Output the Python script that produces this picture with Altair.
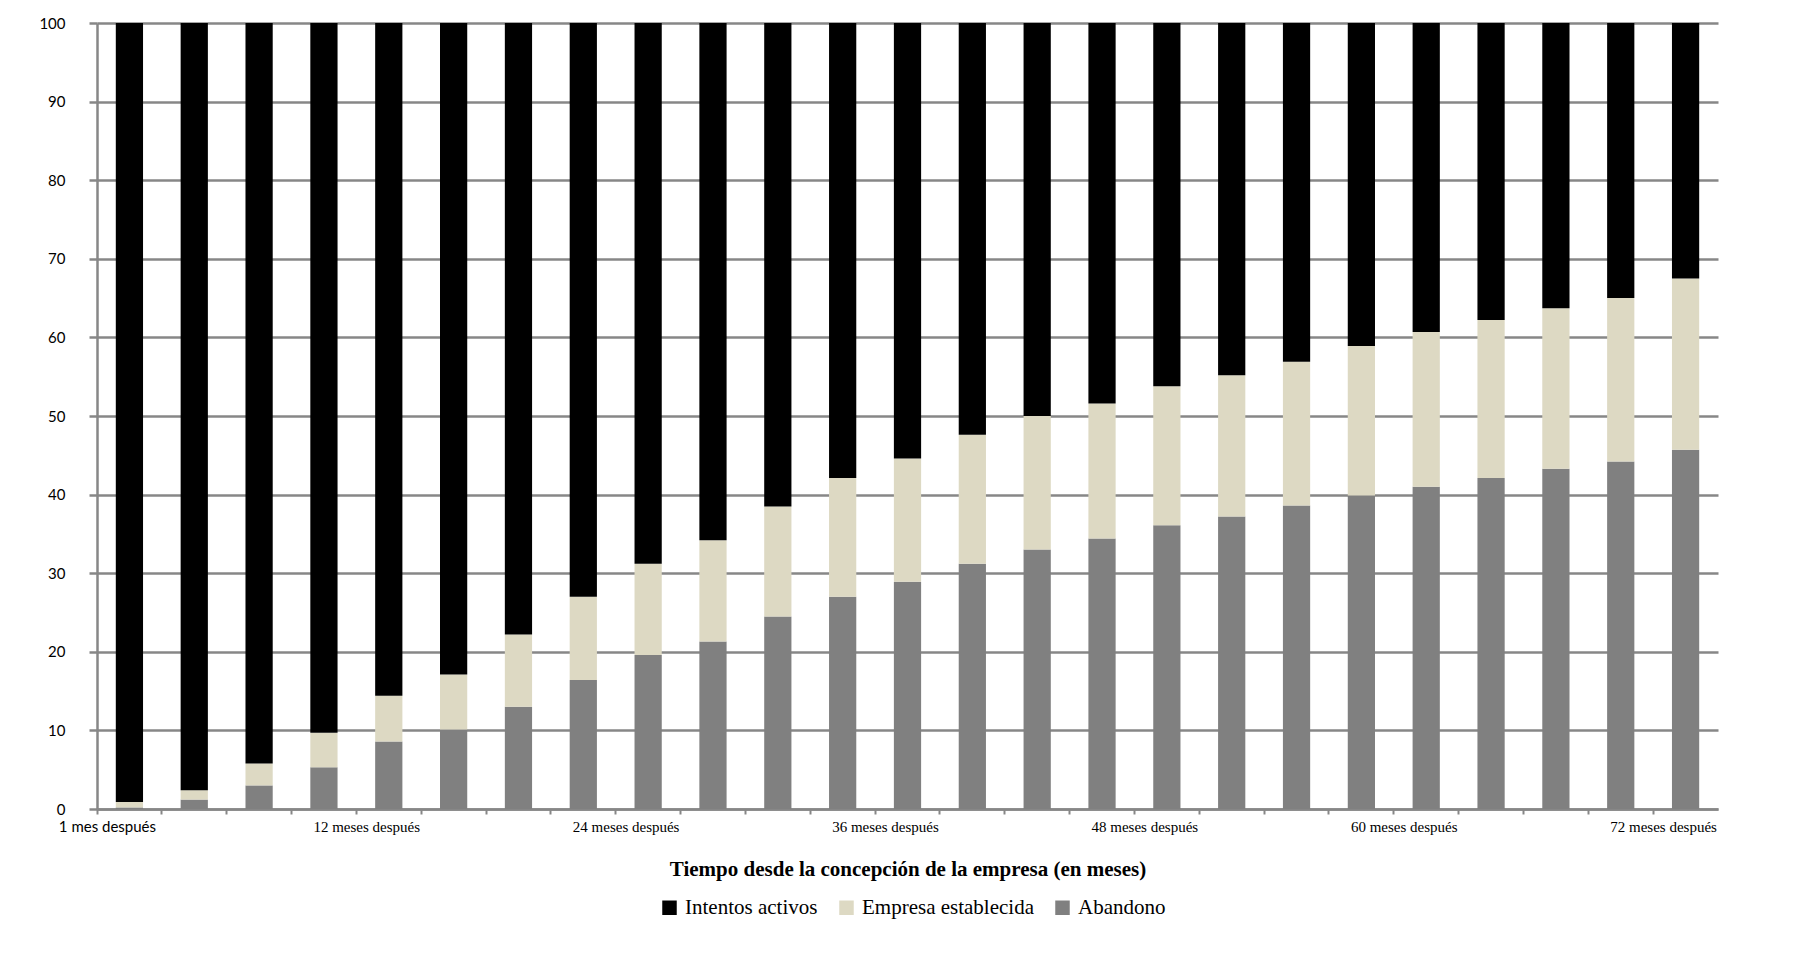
import altair as alt
import pandas as pd

# Months since conception (one bar every 3 months)
meses = [1, 3, 6, 9, 12, 15, 18, 21, 24, 27, 30, 33, 36, 39, 42, 45, 48,
         51, 54, 57, 60, 63, 66, 69, 72]

# Percent values
abandono = [0.2, 1.2, 3.0, 5.3, 8.6, 10.1, 13.0, 16.4, 19.6, 21.3, 24.5, 27.0,
            28.9, 31.2, 33.0, 34.4, 36.1, 37.2, 38.6, 39.9, 41.0, 42.1, 43.3,
            44.2, 45.7]
establecida = [0.7, 1.2, 2.8, 4.4, 5.8, 7.0, 9.2, 10.6, 11.6, 12.9, 14.0, 15.1,
               15.7, 16.4, 17.0, 17.2, 17.7, 18.0, 18.3, 19.0, 19.7, 20.1, 20.4,
               20.8, 21.8]
activos = [99.1, 97.6, 94.2, 90.3, 85.6, 82.9, 77.8, 73.0, 68.8, 65.8, 61.5,
           57.9, 55.4, 52.4, 50.0, 48.4, 46.2, 44.8, 43.1, 41.1, 39.3, 37.8,
           36.3, 35.0, 32.5]

series = ["Intentos activos", "Empresa establecida", "Abandono"]
colores = ["#000000", "#DDD9C3", "#808080"]

# Tick labels shown on the x axis
etiquetas_x = {1: "1 mes después", 12: "12 meses después", 24: "24 meses después",
               36: "36 meses después", 48: "48 meses después",
               60: "60 meses después", 72: "72 meses después"}

rows = []
for vals, name, orden in [(abandono, "Abandono", 0),
                          (establecida, "Empresa establecida", 1),
                          (activos, "Intentos activos", 2)]:
    for m, v in zip(meses, vals):
        rows.append({"mes": m, "valor": v, "serie": name, "orden": orden})
df = pd.DataFrame(rows)

label_expr = " : ".join(
    [f"datum.value == {k} ? '{v}'" for k, v in etiquetas_x.items()]) + " : ''"

grid_color = "#878787"

chart = alt.Chart(df).mark_bar(width=alt.RelativeBandSize(0.42)).encode(
    x=alt.X("mes:O", sort=meses,
            scale=alt.Scale(paddingInner=0, paddingOuter=0),
            axis=alt.Axis(
                title="Tiempo desde la concepción de la empresa (en meses)",
                titleFont="Liberation Serif", titleFontSize=21,
                titleFontWeight="bold", titleColor="#000000", titlePadding=24,
                labelExpr=label_expr, labelAngle=0, bandPosition=0,
                labelOffset=-22,
                labelFont={"condition": {"test": "datum.value == 1",
                                         "value": "Lato"},
                           "value": "Liberation Serif"},
                labelFontSize=15,
                labelColor="#000000", labelPadding=5, labelOverlap=False,
                labelFlush=False,
                domainColor=grid_color, domainWidth=2.5,
                tickColor=grid_color, tickWidth=2, tickSize=5,
                grid=False)),
    y=alt.Y("valor:Q", stack="zero",
            scale=alt.Scale(domain=[0, 100], nice=False),
            axis=alt.Axis(title=None, values=list(range(0, 101, 10)),
                          labelFont="Lato", labelFontSize=15,
                          labelColor="#000000", labelPadding=24,
                          domainColor=grid_color, domainWidth=2.5,
                          tickColor=grid_color, tickWidth=2.5, tickSize=8,
                          grid=True, gridColor=grid_color, gridWidth=2.5)),
    color=alt.Color("serie:N",
                    scale=alt.Scale(domain=series, range=colores),
                    legend=alt.Legend(
                        title=None, orient="none", direction="horizontal",
                        legendX=562, legendY=874,
                        symbolType="square", symbolSize=210,
                        symbolStrokeWidth=0, symbolOpacity=1,
                        labelFont="Liberation Serif", labelFontSize=21,
                        labelColor="#000000", labelOffset=5, labelLimit=0,
                        columnPadding=18)),
    order=alt.Order("orden:Q", sort="ascending"),
).properties(
    width=1621, height=786,
    autosize=alt.AutoSizeParams(type="none"),
    padding={"left": 97, "top": 23, "right": 82, "bottom": 161},
    background="#ffffff",
).configure_view(stroke=None)

chart.save("out.html", embed_options={"renderer": "svg", "actions": False})
